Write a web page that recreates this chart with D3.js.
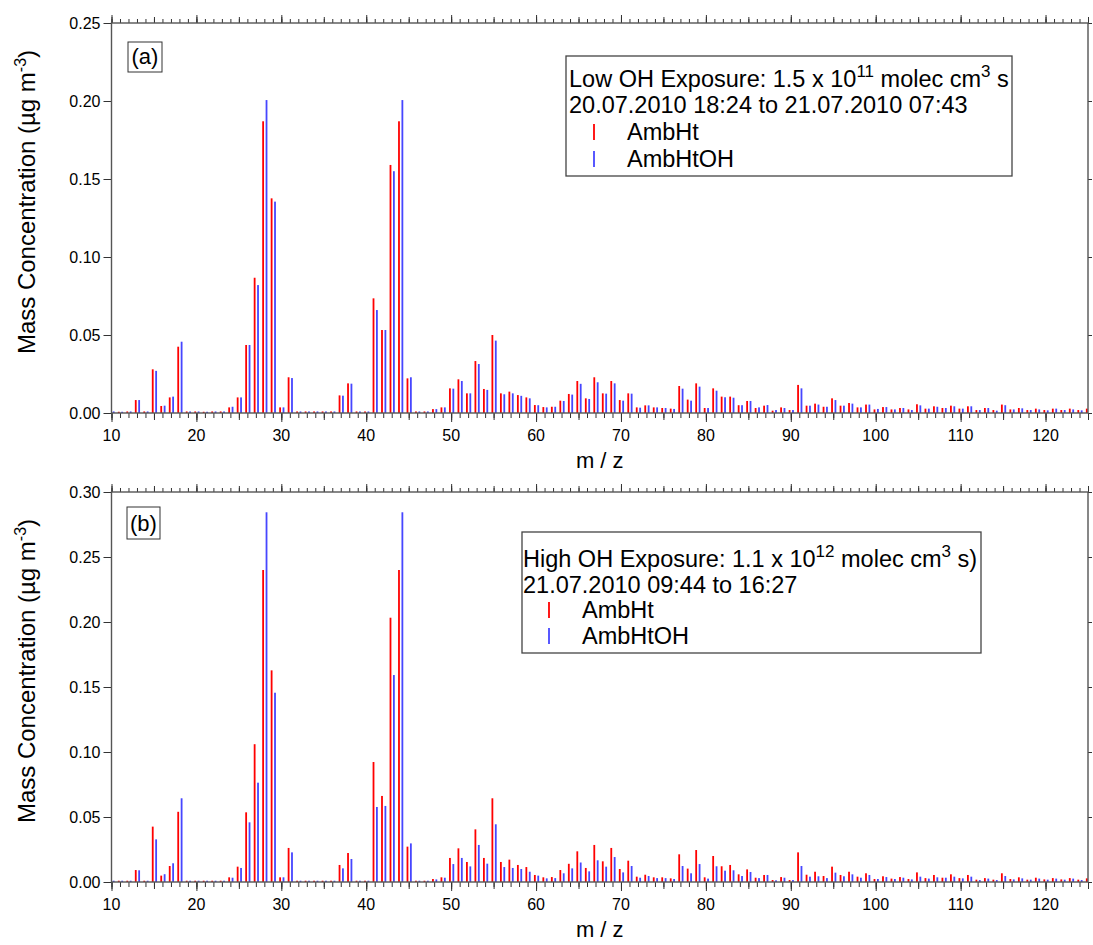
<!DOCTYPE html>
<html><head><meta charset="utf-8">
<script src="https://cdn.jsdelivr.net/npm/d3@7"></script>
<style>
body{margin:0;background:#fff}
svg{display:block}
text{font-family:"Liberation Sans",Arial,sans-serif;fill:#000;white-space:pre}
</style>
</head><body>
<svg id="c" width="1093" height="945"></svg>
<script>
// ---------------- data ----------------
const mzValues = d3.range(10, 126);
const xTickLabels = [10, 20, 30, 40, 50, 60, 70, 80, 90, 100, 110, 120];
const topYTicks = [0, 0.05, 0.10, 0.15, 0.20, 0.25];
const bottomYTicks = [0, 0.05, 0.10, 0.15, 0.20, 0.25, 0.30];
const seriesNames = ["AmbHt", "AmbHtOH"];

const topAmbHt = [
  0.001,0.0008,0.001,0.0083,0.001,0.028,0.0045,0.010,0.0425,0.001,
  0.001,0.0008,0.001,0.001,0.0036,0.010,0.0436,0.0867,0.187,0.1376,
  0.0036,0.0229,0.001,0.001,0.001,0.001,0.001,0.0113,0.019,0.001,
  0.001,0.0735,0.0532,0.159,0.187,0.0222,0.001,0.001,0.0025,0.0036,
  0.0158,0.0216,0.0126,0.0333,0.0154,0.050,0.0126,0.0137,0.0115,0.010,
  0.0051,0.0038,0.004,0.0079,0.0122,0.0205,0.0094,0.0229,0.0126,0.0205,
  0.0083,0.0126,0.0036,0.0049,0.0036,0.0032,0.0028,0.0173,0.0086,0.019,
  0.0032,0.0158,0.0105,0.0105,0.005,0.0077,0.0032,0.0047,0.0015,0.0036,
  0.0019,0.018,0.0047,0.006,0.004,0.0094,0.0047,0.0064,0.0036,0.0054,
  0.0023,0.0038,0.0023,0.0032,0.0023,0.0056,0.0028,0.0043,0.0032,0.0047,
  0.0028,0.0043,0.0019,0.0032,0.0019,0.0054,0.0023,0.0032,0.0019,0.0028,
  0.0019,0.0028,0.0019,0.0028,0.0019,0.0028
];
const topAmbHtOH = [
  0.001,0.0008,0.001,0.0083,0.001,0.027,0.0047,0.0105,0.0457,0.001,
  0.001,0.0008,0.001,0.001,0.004,0.010,0.0436,0.082,0.2006,0.1355,
  0.0036,0.0224,0.001,0.001,0.001,0.001,0.001,0.0111,0.0188,0.001,
  0.001,0.066,0.0532,0.155,0.2006,0.0229,0.001,0.001,0.0025,0.0036,
  0.0156,0.0205,0.0126,0.0314,0.0148,0.0464,0.012,0.0126,0.011,0.0094,
  0.005,0.0036,0.004,0.0077,0.0118,0.0187,0.009,0.0197,0.0124,0.019,
  0.0079,0.0124,0.0034,0.0049,0.0036,0.0032,0.0026,0.0156,0.0079,0.0169,
  0.0032,0.0143,0.0101,0.0098,0.005,0.0077,0.0036,0.0051,0.0019,0.0032,
  0.0019,0.0158,0.0047,0.0054,0.004,0.0083,0.0047,0.006,0.0036,0.0054,
  0.0026,0.0038,0.0023,0.0032,0.0019,0.0049,0.0028,0.004,0.0032,0.0043,
  0.0028,0.0043,0.0019,0.0032,0.0015,0.005,0.0023,0.003,0.0019,0.0023,
  0.0017,0.0028,0.0019,0.0023,0.0017,0.0025
];
const bottomAmbHt = [
  0.001,0.001,0.001,0.0092,0.001,0.0426,0.0049,0.0123,0.054,0.001,
  0.001,0.001,0.001,0.001,0.0036,0.0118,0.0536,0.106,0.240,0.1628,
  0.0036,0.0262,0.001,0.001,0.001,0.001,0.001,0.0131,0.0223,0.001,
  0.001,0.0923,0.0662,0.2033,0.240,0.0272,0.001,0.001,0.0023,0.0036,
  0.0185,0.0259,0.0154,0.0405,0.0185,0.0644,0.0154,0.0172,0.0131,0.0115,
  0.0054,0.0036,0.0038,0.0092,0.014,0.0236,0.0108,0.0285,0.0159,0.0262,
  0.01,0.0164,0.0041,0.0056,0.0036,0.0036,0.0028,0.0213,0.0103,0.0246,
  0.0036,0.02,0.0121,0.0131,0.0059,0.0097,0.0033,0.0054,0.0015,0.0038,
  0.0015,0.0228,0.0056,0.0079,0.0046,0.0118,0.0054,0.0079,0.0041,0.0067,
  0.0023,0.0044,0.0026,0.0038,0.0023,0.0074,0.003,0.0054,0.0033,0.0059,
  0.003,0.0054,0.0018,0.003,0.0018,0.0067,0.0023,0.0036,0.0018,0.0033,
  0.002,0.003,0.002,0.003,0.0018,0.0028
];
const bottomAmbHtOH = [
  0.001,0.001,0.001,0.009,0.001,0.0328,0.006,0.0144,0.0644,0.001,
  0.001,0.001,0.001,0.001,0.0033,0.0108,0.0459,0.0764,0.2844,0.1456,
  0.0036,0.0228,0.001,0.001,0.001,0.001,0.001,0.0105,0.0177,0.001,
  0.001,0.0577,0.0585,0.1592,0.2844,0.0297,0.001,0.001,0.002,0.0033,
  0.0138,0.0185,0.012,0.0285,0.0141,0.0444,0.0115,0.0108,0.01,0.0079,
  0.0049,0.0028,0.003,0.0067,0.0105,0.015,0.0082,0.0167,0.0118,0.0192,
  0.0074,0.0123,0.0033,0.0046,0.003,0.003,0.0023,0.0123,0.0067,0.0138,
  0.0026,0.0121,0.0087,0.009,0.0046,0.0077,0.003,0.0054,0.0013,0.0033,
  0.0015,0.0123,0.0041,0.0044,0.003,0.0072,0.0044,0.0059,0.0033,0.0054,
  0.0023,0.0038,0.0023,0.0033,0.002,0.0041,0.0026,0.0036,0.0033,0.0041,
  0.0028,0.0041,0.0015,0.0026,0.0015,0.0046,0.002,0.0028,0.0018,0.0026,
  0.0018,0.0026,0.0018,0.0026,0.0015,0.0025
];

const topLegendLine1 = [["Low OH Exposure: 1.5 x 10", false], ["11", true], [" molec cm", false], ["3", true], [" s", false]];
const topLegendLine2 = "20.07.2010 18:24 to 21.07.2010 07:43";
const bottomLegendLine1 = [["High OH Exposure: 1.1 x 10", false], ["12", true], [" molec cm", false], ["3", true], [" s)", false]];
const bottomLegendLine2 = "21.07.2010 09:44 to 16:27";

// ---------------- styling / layout ----------------
const RED = "#ff0000", BLUE = "#4646ff";
const AXIS_COL = "#555", TICK_COL = "#333";
const svg = d3.select("#c");
const x = d3.scaleLinear().domain([10, 125]).range([111.5, 1088]);

const panels = [
  {id: "a", label: "(a)", top: 23, bottom: 413, yMax: 0.25, yTicks: topYTicks,
   s1: topAmbHt, s2: topAmbHtOH, line1: topLegendLine1, line2: topLegendLine2,
   box: [566, 56, 1012, 176], tx: 569, base: [87, 113, 140, 167], mx: 594, lx: 627,
   lbl: [128, 42, 162, 72]},
  {id: "b", label: "(b)", top: 492, bottom: 882, yMax: 0.30, yTicks: bottomYTicks,
   s1: bottomAmbHt, s2: bottomAmbHtOH, line1: bottomLegendLine1, line2: bottomLegendLine2,
   box: [522, 532, 981, 653], tx: 523, base: [567, 593, 618, 644], mx: 549, lx: 582,
   lbl: [127, 507, 160, 539]}
];

function richText(sel, parts, size, supSize, rise) {
  let shifted = false;
  parts.forEach(([t, sup]) => {
    const ts = sel.append("tspan").text(t);
    if (sup && !shifted) { ts.attr("dy", -rise).attr("font-size", supSize); shifted = true; }
    else if (sup) { ts.attr("font-size", supSize); }
    else if (shifted) { ts.attr("dy", rise).attr("font-size", size); shifted = false; }
    else ts.attr("font-size", size);
  });
}

panels.forEach(p => {
  const y = d3.scaleLinear().domain([0, p.yMax]).range([p.bottom, p.top]);
  const g = svg.append("g");

  g.append("clipPath").attr("id", "clip" + p.id).append("rect")
    .attr("x", x(10)).attr("y", p.top).attr("width", x(125) - x(10)).attr("height", p.bottom - p.top);

  const data = mzValues.map((m, i) => ({m, a: p.s1[i], b: p.s2[i]}));
  const bars = g.append("g").attr("clip-path", `url(#clip${p.id})`);
  bars.selectAll("rect.r").data(data).join("rect").attr("class", "r")
    .attr("x", d => x(d.m - 0.25)).attr("width", 1.8)
    .attr("y", d => y(d.a)).attr("height", d => y(0) - y(d.a)).attr("fill", RED);
  bars.selectAll("rect.b").data(data).join("rect").attr("class", "b")
    .attr("x", d => x(d.m + 0.15)).attr("width", 1.8)
    .attr("y", d => y(d.b)).attr("height", d => y(0) - y(d.b)).attr("fill", BLUE);

  // x ticks (bottom & top), three levels
  const minor = mzValues, mid = mzValues.filter(v => v % 5 === 0), major = xTickLabels.concat([]);
  const levels = [[minor, 5], [mid, 7], [major, 9]];
  levels.forEach(([vals, len]) => {
    const ab = g.append("g").attr("transform", `translate(0,${p.bottom})`)
      .call(d3.axisBottom(x).tickValues(vals).tickSize(len).tickFormat(""));
    ab.select(".domain").remove();
    ab.selectAll("line").attr("stroke", TICK_COL);
    const at = g.append("g").attr("transform", `translate(0,${p.top})`)
      .call(d3.axisTop(x).tickValues(vals).tickSize(len - 1).tickFormat(""));
    at.select(".domain").remove();
    at.selectAll("line").attr("stroke", TICK_COL);
  });
  // x labels
  g.selectAll("text.xl").data(xTickLabels).join("text").attr("class", "xl")
    .attr("x", d => x(d)).attr("y", p.bottom + 28).attr("text-anchor", "middle")
    .attr("font-size", 16).attr("fill", "#111").text(d => d);

  // y axis left
  const ay = g.append("g").attr("transform", `translate(${x(10)},0)`)
    .call(d3.axisLeft(y).tickValues(p.yTicks).tickSize(8).tickFormat(d3.format(".2f")));
  ay.select(".domain").remove();
  ay.selectAll("line").attr("stroke", TICK_COL);
  ay.selectAll("text").attr("font-size", 16).attr("fill", "#111").attr("x", -11)
    .style("font-family", '"Liberation Sans",Arial,sans-serif');
  // y axis right
  const ar = g.append("g").attr("transform", `translate(${x(125)},0)`)
    .call(d3.axisRight(y).tickValues(p.yTicks).tickSize(4).tickFormat(""));
  ar.select(".domain").remove();
  ar.selectAll("line").attr("stroke", TICK_COL);

  // frame
  g.append("rect").attr("x", x(10)).attr("y", p.top).attr("width", x(125) - x(10))
    .attr("height", p.bottom - p.top).attr("fill", "none").attr("stroke", AXIS_COL).attr("stroke-width", 1.4);

  // axis titles
  g.append("text").attr("x", (x(10) + x(125)) / 2).attr("y", p.bottom + 55)
    .attr("text-anchor", "middle").attr("font-size", 22).text("m / z");
  const yt = g.append("text").attr("transform", `translate(35,${(p.top + p.bottom) / 2 - 16}) rotate(-90)`)
    .attr("text-anchor", "middle");
  richText(yt, [["Mass Concentration (µg m", false], ["-3", true], [")", false]], 24, 16, 9);

  // panel label
  const L = p.lbl;
  g.append("rect").attr("x", L[0]).attr("y", L[1]).attr("width", L[2] - L[0]).attr("height", L[3] - L[1])
    .attr("fill", "#fff").attr("stroke", "#333").attr("stroke-width", 1);
  g.append("text").attr("x", (L[0] + L[2]) / 2).attr("y", L[3] - 8).attr("text-anchor", "middle")
    .attr("font-size", 22).text(p.label);

  // legend
  const B = p.box;
  g.append("rect").attr("x", B[0]).attr("y", B[1]).attr("width", B[2] - B[0]).attr("height", B[3] - B[1])
    .attr("fill", "#fff").attr("stroke", "#444").attr("stroke-width", 1.3);
  const t1 = g.append("text").attr("x", p.tx).attr("y", p.base[0]);
  richText(t1, p.line1, 23.5, 17, 10);
  g.append("text").attr("x", p.tx).attr("y", p.base[1]).attr("font-size", 23.5).text(p.line2);
  [RED, BLUE].forEach((c, i) => {
    const by = p.base[2 + i];
    g.append("line").attr("x1", p.mx).attr("x2", p.mx).attr("y1", by - 16).attr("y2", by)
      .attr("stroke", c).attr("stroke-width", 1.8);
    g.append("text").attr("x", p.lx).attr("y", by).attr("font-size", 23.5).text(seriesNames[i]);
  });
});
</script>
</body></html>
